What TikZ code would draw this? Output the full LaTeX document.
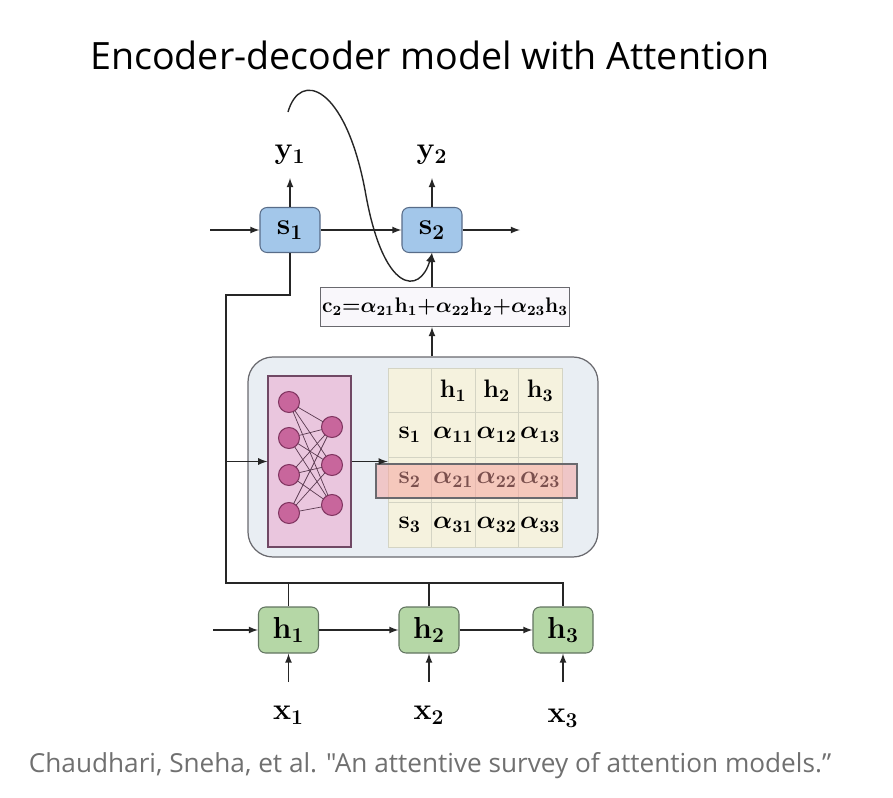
\documentclass[tikz,border=0pt]{standalone}
\usepackage{fontspec}
\usepackage{amsmath}
\usepackage{tikz-network}
\newfontfamily\headfont{Open Sans}

\definecolor{sfill}{RGB}{163,199,234}
\definecolor{sline}{RGB}{88,108,136}
\definecolor{hfill}{RGB}{181,215,166}
\definecolor{hline}{RGB}{98,116,96}
\definecolor{panelfill}{RGB}{233,238,243}
\definecolor{panelline}{RGB}{105,105,110}
\definecolor{nnfill}{RGB}{234,198,222}
\definecolor{nnline}{RGB}{112,72,100}
\definecolor{neuron}{RGB}{200,102,156}
\definecolor{neuronline}{RGB}{128,52,96}
\definecolor{cellfill}{RGB}{245,242,222}
\definecolor{cellline}{RGB}{212,212,196}
\definecolor{rowfill}{RGB}{246,160,156}
\definecolor{cfill}{RGB}{249,247,251}
\definecolor{citegray}{RGB}{112,112,112}

\tikzset{
  wire/.style={line width=0.8pt, black!85},
  flow/.style={wire, -latex},
  synapse/.style={line width=0.4pt, nnline!80!black},
  sbox/.style={draw=sline, fill=sfill, line width=0.6pt, rounded corners=4pt, minimum width=1.2cm, minimum height=0.9cm, font=\fontsize{18}{18}\selectfont\boldmath},
  hbox/.style={sbox, draw=hline, fill=hfill, minimum height=0.92cm},
  varlabel/.style={font=\fontsize{18}{18}\selectfont\boldmath},
  cell/.style={draw=cellline, fill=cellfill, inner sep=0pt, minimum width=0.87cm, minimum height=0.895cm, font=\fontsize{14}{14}\selectfont\boldmath},
}

\begin{document}
\begin{tikzpicture}

\useasboundingbox (0,0) rectangle (17.86,-15.96);

\SetVertexStyle[FillColor=neuron, LineColor=neuronline, LineWidth=0.6pt]

% title and source
\node[font=\headfont\fontsize{21.4}{25}\selectfont] (title) at (8.6,-1.1) {Encoder-decoder model with Attention};
\node[font=\headfont\fontsize{14.9}{18}\selectfont, text=citegray] (cite) at (8.6,-15.32) {Chaudhari, Sneha, et al. "An attentive survey of attention models.”};

% attention panel
\node[draw=panelline, fill=panelfill, line width=0.7pt, rounded corners=0.5cm, minimum width=7cm, minimum height=4cm] (att) at (8.46,-9.14) {};
\node[draw=nnline, fill=nnfill, line width=0.7pt, minimum width=1.66cm, minimum height=3.42cm] (nn) at (6.19,-9.23) {};

% decoder
\node[sbox] (s1) at (5.8,-4.6) {$\mathbf{s}_1$};
\node[sbox] (s2) at (8.64,-4.6) {$\mathbf{s}_2$};
\node[varlabel] (y1) at (5.8,-3.1) {$\mathbf{y}_1$};
\node[varlabel] (y2) at (8.64,-3.1) {$\mathbf{y}_2$};
\coordinate (y1out) at (5.8,-3.56);
\coordinate (y2out) at (8.64,-3.56);
\coordinate (sin) at (4.2,-4.6);
\coordinate (sout) at (10.4,-4.6);
\draw[flow] (sin) -- (s1);
\draw[flow] (s1) -- (s2);
\draw[flow] (s2) -- (sout);
\draw[flow] (s1) -- (y1out);
\draw[flow] (s2) -- (y2out);

% context vector
\node[draw=panelline, fill=cfill, line width=0.6pt, minimum width=4.68cm, minimum height=0.78cm, inner sep=1pt, font=\fontsize{11.6}{11.6}\selectfont\boldmath] (ctx) at (8.9,-6.14)
  {$\mathbf{c}_2{=}\alpha_{21}\mathbf{h}_1{+}\alpha_{22}\mathbf{h}_2{+}\alpha_{23}\mathbf{h}_3$};
\draw[flow] (ctx.north -| s2.south) -- (s2.south);
\draw[flow] (att.north -| s2.south) -- (ctx.south -| s2.south);

% feedback of y1
\coordinate (loopstart) at (5.76,-2.24);
\draw[flow] (loopstart) .. controls (6.0,-1.4) and (6.9,-1.7) .. (7.3,-3.8)
  .. controls (7.66,-5.9) and (8.4,-5.9) .. (s2.south);

% scoring network
\Vertex[x=5.78,y=-8.04,size=0.42]{L_1}
\Vertex[x=5.78,y=-8.76,size=0.42]{L_2}
\Vertex[x=5.78,y=-9.5,size=0.42]{L_3}
\Vertex[x=5.78,y=-10.26,size=0.42]{L_4}
\Vertex[x=6.64,y=-8.54,size=0.42]{R_1}
\Vertex[x=6.64,y=-9.3,size=0.42]{R_2}
\Vertex[x=6.64,y=-10.1,size=0.42]{R_3}
\draw[synapse] (L_1) -- (R_1);
\draw[synapse] (L_1) -- (R_2);
\draw[synapse] (L_1) -- (R_3);
\draw[synapse] (L_2) -- (R_1);
\draw[synapse] (L_2) -- (R_2);
\draw[synapse] (L_2) -- (R_3);
\draw[synapse] (L_3) -- (R_1);
\draw[synapse] (L_3) -- (R_2);
\draw[synapse] (L_3) -- (R_3);
\draw[synapse] (L_4) -- (R_1);
\draw[synapse] (L_4) -- (R_2);
\draw[synapse] (L_4) -- (R_3);

% alignment scores
\node[cell] (g00) at (8.195,-7.8075) {};
\node[cell] (g01) at (9.065,-7.8075) {$\mathbf{h}_1$};
\node[cell] (g02) at (9.935,-7.8075) {$\mathbf{h}_2$};
\node[cell] (g03) at (10.805,-7.8075) {$\mathbf{h}_3$};
\node[cell] (g10) at (8.195,-8.7025) {$\mathbf{s}_1$};
\node[cell] (g11) at (9.065,-8.7025) {$\alpha_{11}$};
\node[cell] (g12) at (9.935,-8.7025) {$\alpha_{12}$};
\node[cell] (g13) at (10.805,-8.7025) {$\alpha_{13}$};
\node[cell] (g20) at (8.195,-9.5975) {$\mathbf{s}_2$};
\node[cell] (g21) at (9.065,-9.5975) {$\alpha_{21}$};
\node[cell] (g22) at (9.935,-9.5975) {$\alpha_{22}$};
\node[cell] (g23) at (10.805,-9.5975) {$\alpha_{23}$};
\node[cell] (g30) at (8.195,-10.4925) {$\mathbf{s}_3$};
\node[cell] (g31) at (9.065,-10.4925) {$\alpha_{31}$};
\node[cell] (g32) at (9.935,-10.4925) {$\alpha_{32}$};
\node[cell] (g33) at (10.805,-10.4925) {$\alpha_{33}$};
\node[draw=panelline, line width=0.7pt, fill=rowfill, fill opacity=0.5, draw opacity=1, minimum width=4.02cm, minimum height=0.68cm] (focus) at (9.53,-9.62) {};
\draw[flow] (nn.east) -- (nn.east -| g00.west);

% encoder
\node[hbox] (h1) at (5.77,-12.6) {$\mathbf{h}_1$};
\node[hbox] (h2) at (8.58,-12.6) {$\mathbf{h}_2$};
\node[hbox] (h3) at (11.26,-12.6) {$\mathbf{h}_3$};
\node[varlabel] (x1) at (5.77,-14.3) {$\mathbf{x}_1$};
\node[varlabel] (x2) at (8.58,-14.3) {$\mathbf{x}_2$};
\node[varlabel] (x3) at (11.26,-14.36) {$\mathbf{x}_3$};
\coordinate (x1in) at (5.77,-13.64);
\coordinate (x2in) at (8.58,-13.64);
\coordinate (x3in) at (11.26,-13.64);
\coordinate (hin) at (4.26,-12.6);
\draw[flow] (hin) -- (h1);
\draw[flow] (h1) -- (h2);
\draw[flow] (h2) -- (h3);
\draw[flow] (x1in) -- (h1);
\draw[flow] (x2in) -- (h2);
\draw[flow] (x3in) -- (h3);

% wiring of states into the panel
\coordinate (turn) at (4.52,-5.9);
\coordinate (bus) at (4.52,-11.66);
\draw[wire] (s1.south) |- (turn) -- (bus) -| (h3.north);
\draw[wire] (h1.north) -- (h1.north |- bus);
\draw[wire] (h2.north) -- (h2.north |- bus);
\draw[flow] (bus |- nn.west) -- (nn.west);

\end{tikzpicture}
\end{document}
